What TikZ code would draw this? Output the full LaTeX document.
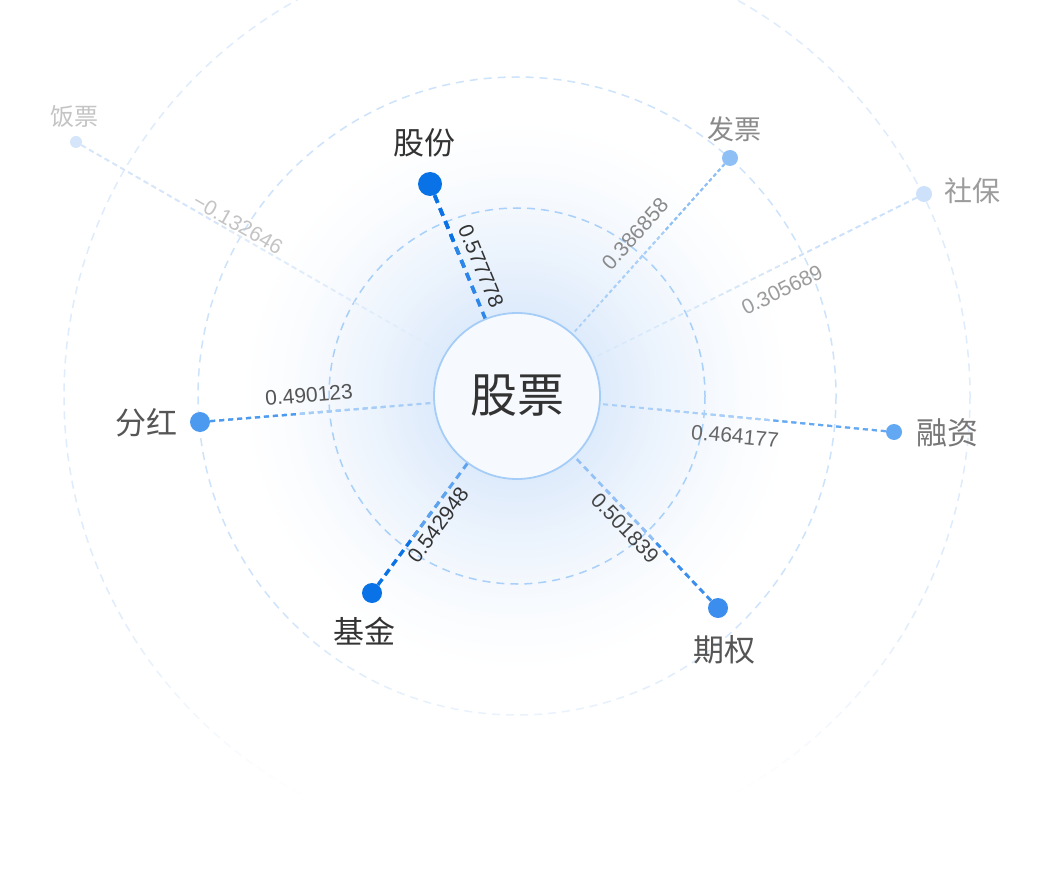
\documentclass[tikz,border=0pt]{standalone}
\usepackage{fontspec}
\setmainfont{Liberation Sans}
\newfontfamily\cjk{Noto Sans CJK SC}
\usetikzlibrary{calc,fadings}
\definecolor{glowbase}{HTML}{C4DBF8}
\definecolor{ringA}{HTML}{A9D0F8}
\definecolor{ringB}{HTML}{CDE3FB}
\definecolor{ringC}{HTML}{DEECFC}
\definecolor{cfill}{HTML}{F6FAFF}
\definecolor{cline}{HTML}{A5CDF7}
\definecolor{dk}{HTML}{0872E6}
\definecolor{qq}{HTML}{3B8EED}
\definecolor{fh}{HTML}{4C9AEF}
\definecolor{rz}{HTML}{62A8F3}
\definecolor{fp}{HTML}{8EC0F6}
\definecolor{sb}{HTML}{CDE2FA}
\definecolor{ft}{HTML}{D5E6FA}
\definecolor{t33}{HTML}{333333}
\definecolor{t44}{HTML}{444444}
\definecolor{t55}{HTML}{555555}
\definecolor{t66}{HTML}{666666}
\definecolor{t77}{HTML}{777777}
\definecolor{t88}{HTML}{8A8A8A}
\definecolor{t99}{HTML}{9C9C9C}
\definecolor{tcc}{HTML}{C4C4C4}
\newcommand\gradline[4]{%
  \path (#1) -- (c) coordinate[pos=0.4] (#1q1) coordinate[pos=0.6] (#1q2) coordinate[pos=0.8] (#1q3);
  \draw[#2,#4] (#1) -- (c);
  \draw[#2,#3!40!#4] (#1) -- (#1q3);
  \draw[#2,#3!75!#4] (#1) -- (#1q2);
  \draw[#2,#3] (#1) -- (#1q1);}
\begin{document}
\begin{tikzpicture}[x=1pt,y=-1pt,
  ring/.style={line width=1.5pt, dash pattern=on 8pt off 6pt},
  dot/.style={circle, inner sep=0pt, fill=#1},
  num/.style={font=\fontsize{21}{21}\selectfont, inner sep=0pt},
  lab/.style={font=\cjk\fontsize{31}{31}\selectfont, inner sep=0pt}]
\useasboundingbox (0,0) rectangle (1040,890);
\fill[white] (0,0) rectangle (1040,890);
\foreach \r in {278,274,...,86} {
  \pgfmathsetmacro\p{56*((280-\r)/195)^1.4}
  \fill[glowbase!\p!white] (517,396) circle[radius=\r];
}
\draw[ring, ringA] (517,396) circle[radius=188];
\draw[ring, ringB] (517,396) circle[radius=319];
\draw[ring, ringC] (517,396) circle[radius=453];
\fill[white, path fading=north] (0,600) rectangle (1040,795);
\fill[white] (0,795) rectangle (1040,890);

\node[circle, minimum size=166pt, inner sep=0pt, fill=cfill, draw=cline, line width=1.8pt,
  font=\cjk\fontsize{47}{47}\selectfont, text=t33] (c) at (517,396) {股票};

\node[dot=dk, minimum size=24pt] (gf) at (430,184) {};
\node[dot=dk, minimum size=20pt] (jj) at (372,593) {};
\node[dot=qq, minimum size=20pt] (qqd) at (718,608) {};
\node[dot=fh, minimum size=20pt] (fhd) at (200,422) {};
\node[dot=rz, minimum size=16pt] (rzd) at (894,432) {};
\node[dot=fp, minimum size=16pt] (fpd) at (730,158) {};
\node[dot=sb, minimum size=16pt] (sbd) at (924,194) {};
\node[dot=ft, minimum size=12pt] (ftd) at (76,142) {};

\gradline{gf}{line width=3.5pt, dash pattern=on 8pt off 6pt}{dk}{dk!85!white}
\gradline{jj}{line width=3pt, dash pattern=on 7pt off 5pt}{dk}{dk!65!white}
\gradline{qqd}{line width=2.6pt, dash pattern=on 6pt off 4.5pt}{qq}{qq!55!white}
\gradline{fhd}{line width=2.2pt, dash pattern=on 5pt off 4pt}{fh}{fh!50!white}
\gradline{rzd}{line width=2pt, dash pattern=on 5pt off 4pt}{rz}{rz!55!white}
\gradline{fpd}{line width=1.8pt, dash pattern=on 3.5pt off 3pt}{fp}{fp!75!white}
\gradline{sbd}{line width=1.5pt, dash pattern=on 5pt off 4pt}{sb}{sb!80!white}
\gradline{ftd}{line width=1.5pt, dash pattern=on 5pt off 4pt}{ft}{ft!75!white}

\node[lab, text=t33] (gfl) at (424,143) {股份};
\node[lab, text=t33] (jjl) at (364,631) {基金};
\node[lab, text=t55] (qql) at (724,650) {期权};
\node[lab, text=t55] (fhl) at (146,423) {分红};
\node[lab, text=t77] (rzl) at (947,433) {融资};
\node[lab, text=t88, font=\cjk\fontsize{27}{27}\selectfont] (fpl) at (734,129) {发票};
\node[lab, text=t99, font=\cjk\fontsize{28}{28}\selectfont] (sbl) at (972,191) {社保};
\node[lab, text=tcc, font=\cjk\fontsize{24}{24}\selectfont] (ftl) at (74,116) {饭票};

\node[num, text=t33, rotate=-67.7] (gfn) at (481,266) {0.577778};
\node[num, text=t33, rotate=53.6] (jjn) at (438,525) {0.542948};
\node[num, text=t44, rotate=-46.5] (qqn) at (625,528) {0.501839};
\node[num, text=t55, rotate=4.7] (fhn) at (309,395) {0.490123};
\node[num, text=t66, rotate=-5.45] (rzn) at (735,436) {0.464177};
\node[num, text=t88, rotate=48.2] (fpn) at (635,234) {0.386858};
\node[num, text=t99, rotate=26.4] (sbn) at (782,290) {0.305689};
\node[num, text=tcc, rotate=-30] (ftn) at (238,224) {−0.132646};
\end{tikzpicture}
\end{document}
